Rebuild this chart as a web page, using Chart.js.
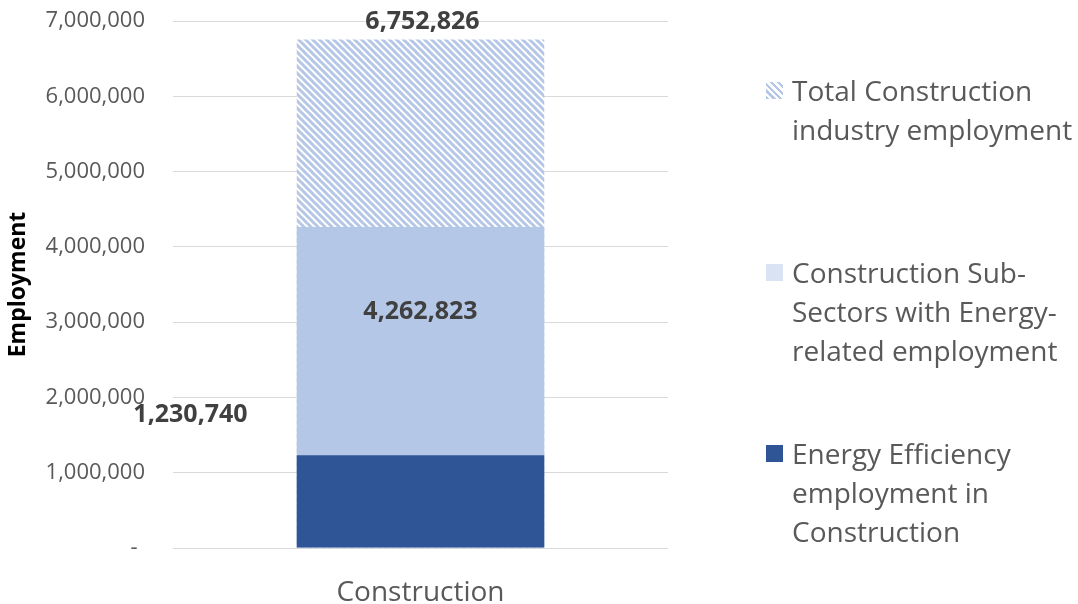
<!DOCTYPE html>
<html>
<head>
<meta charset="utf-8">
<script src="https://cdn.jsdelivr.net/npm/chart.js@4.4.1/dist/chart.umd.min.js"></script>
<style>
  html, body { margin: 0; padding: 0; background: #fff; }
  #wrap { position: relative; width: 1078px; height: 604px; }
  #chart { position: absolute; left: 0; top: 0; }
  #legend { position: absolute; left: 766px; top: 0; width: 312px;
            font-family: "Open Sans", sans-serif; font-size: 28px; line-height: 39px; color: #595959; }
  .item { position: absolute; left: 0; }
  .swatch { position: absolute; left: 0; top: 11px; width: 17px; height: 17px; }
  .text { position: absolute; left: 26px; top: 0; white-space: nowrap; }
</style>
</head>
<body>
<div id="wrap">
  <canvas id="chart" width="1078" height="604"></canvas>
  <div id="legend"></div>
</div>
<script>
// Categories and series
const categories = ['Construction'];
const seriesNames = [
  'Energy Efficiency employment in Construction',
  'Construction Sub-Sectors with Energy-related employment',
  'Total Construction industry employment'
];
const efficiencyJobs = [1230740];
const subSectorJobs = [4262823];
const totalJobs = [6752826];
const yTicks = [0, 1000000, 2000000, 3000000, 4000000, 5000000, 6000000, 7000000];

// Legend lines (as wrapped on the page)
const legendLines = [
  ['Total Construction', 'industry employment'],
  ['Construction Sub-', 'Sectors with Energy-', 'related employment'],
  ['Energy Efficiency', 'employment in', 'Construction']
];

const DARK = '#2f5597';
const LIGHT = '#b4c7e7';

// Downward diagonal hatch used for the total bar
function makeHatch() {
  const s = 7;
  const c = document.createElement('canvas');
  c.width = s; c.height = s;
  const g = c.getContext('2d');
  g.fillStyle = '#ffffff';
  g.fillRect(0, 0, s, s);
  g.strokeStyle = LIGHT;
  g.lineWidth = 3;
  g.beginPath();
  for (let k = -1; k <= 1; k++) {
    g.moveTo(k * s - 1, -1);
    g.lineTo(k * s + s + 1, s + 1);
  }
  g.stroke();
  return g.createPattern(c, 'repeat');
}
const hatch = makeHatch();

const fmt = v => v.toLocaleString('en-US');

// Value labels, offset from the top of each bar
const labelOffsets = [
  { dx: -230, dy: -40 },
  { dx: 0, dy: 85 },
  { dx: 2, dy: -18 }
];
const valueLabels = {
  id: 'valueLabels',
  afterDatasetsDraw(chart) {
    const ctx = chart.ctx;
    ctx.save();
    ctx.font = 'bold 25px "Open Sans", sans-serif';
    ctx.fillStyle = '#404040';
    ctx.textAlign = 'center';
    ctx.textBaseline = 'middle';
    chart.data.datasets.forEach((ds, i) => {
      const meta = chart.getDatasetMeta(i);
      meta.data.forEach((el, j) => {
        const o = labelOffsets[i];
        ctx.fillText(fmt(ds.data[j]), el.x + o.dx, el.y + o.dy);
      });
    });
    ctx.restore();
  }
};

const chart = new Chart(document.getElementById('chart'), {
  type: 'bar',
  data: {
    labels: categories,
    datasets: [
      { label: seriesNames[0], data: efficiencyJobs, backgroundColor: DARK, grouped: false },
      { label: seriesNames[1], data: subSectorJobs, backgroundColor: LIGHT, grouped: false },
      { label: seriesNames[2], data: totalJobs, backgroundColor: hatch, grouped: false }
    ]
  },
  options: {
    responsive: false,
    animation: false,
    events: [],
    layout: { padding: { top: 21, right: 410, bottom: 0, left: 0 } },
    datasets: { bar: { barPercentage: 0.5, categoryPercentage: 1.0 } },
    plugins: { legend: { display: false }, tooltip: { enabled: false } },
    scales: {
      x: {
        grid: { display: false },
        border: { display: false },
        ticks: { color: '#595959', font: { family: 'Open Sans', size: 28 }, padding: 20 },
        afterFit(scale) { scale.height = 56; }
      },
      y: {
        min: 0, max: 7000000,
        afterBuildTicks(scale) { scale.ticks = yTicks.map(v => ({ value: v })); },
        grid: { color: '#d9d9d9', lineWidth: 1, drawTicks: true, tickLength: 28, tickColor: 'rgba(0,0,0,0)' },
        border: { display: false },
        ticks: {
          color: '#595959', padding: 0,
          font: { family: 'Open Sans', size: 22 },
          callback: v => v === 0 ? '-\u2009\u2009' : fmt(v)
        },
        title: {
          display: true, text: 'Employment', color: '#000',
          font: { family: 'Open Sans', size: 23, weight: 'bold' },
          padding: { top: 5, bottom: 0 }
        },
        afterFit(scale) { scale.width = 173; }
      }
    }
  },
  plugins: [valueLabels]
});

// HTML legend
const legendEl = document.getElementById('legend');
const legendTops = [71, 253, 434];
const swatchFills = [
  'repeating-linear-gradient(45deg, ' + LIGHT + ' 0 2.4px, #fff 2.4px 4.8px)',
  '#dae3f3',
  DARK
];
legendLines.forEach((lines, i) => {
  const item = document.createElement('div');
  item.className = 'item';
  item.style.top = legendTops[i] + 'px';
  const sw = document.createElement('div');
  sw.className = 'swatch';
  sw.style.background = swatchFills[i];
  const tx = document.createElement('div');
  tx.className = 'text';
  tx.innerHTML = lines.join('<br>');
  item.appendChild(sw);
  item.appendChild(tx);
  legendEl.appendChild(item);
});
</script>
</body>
</html>
